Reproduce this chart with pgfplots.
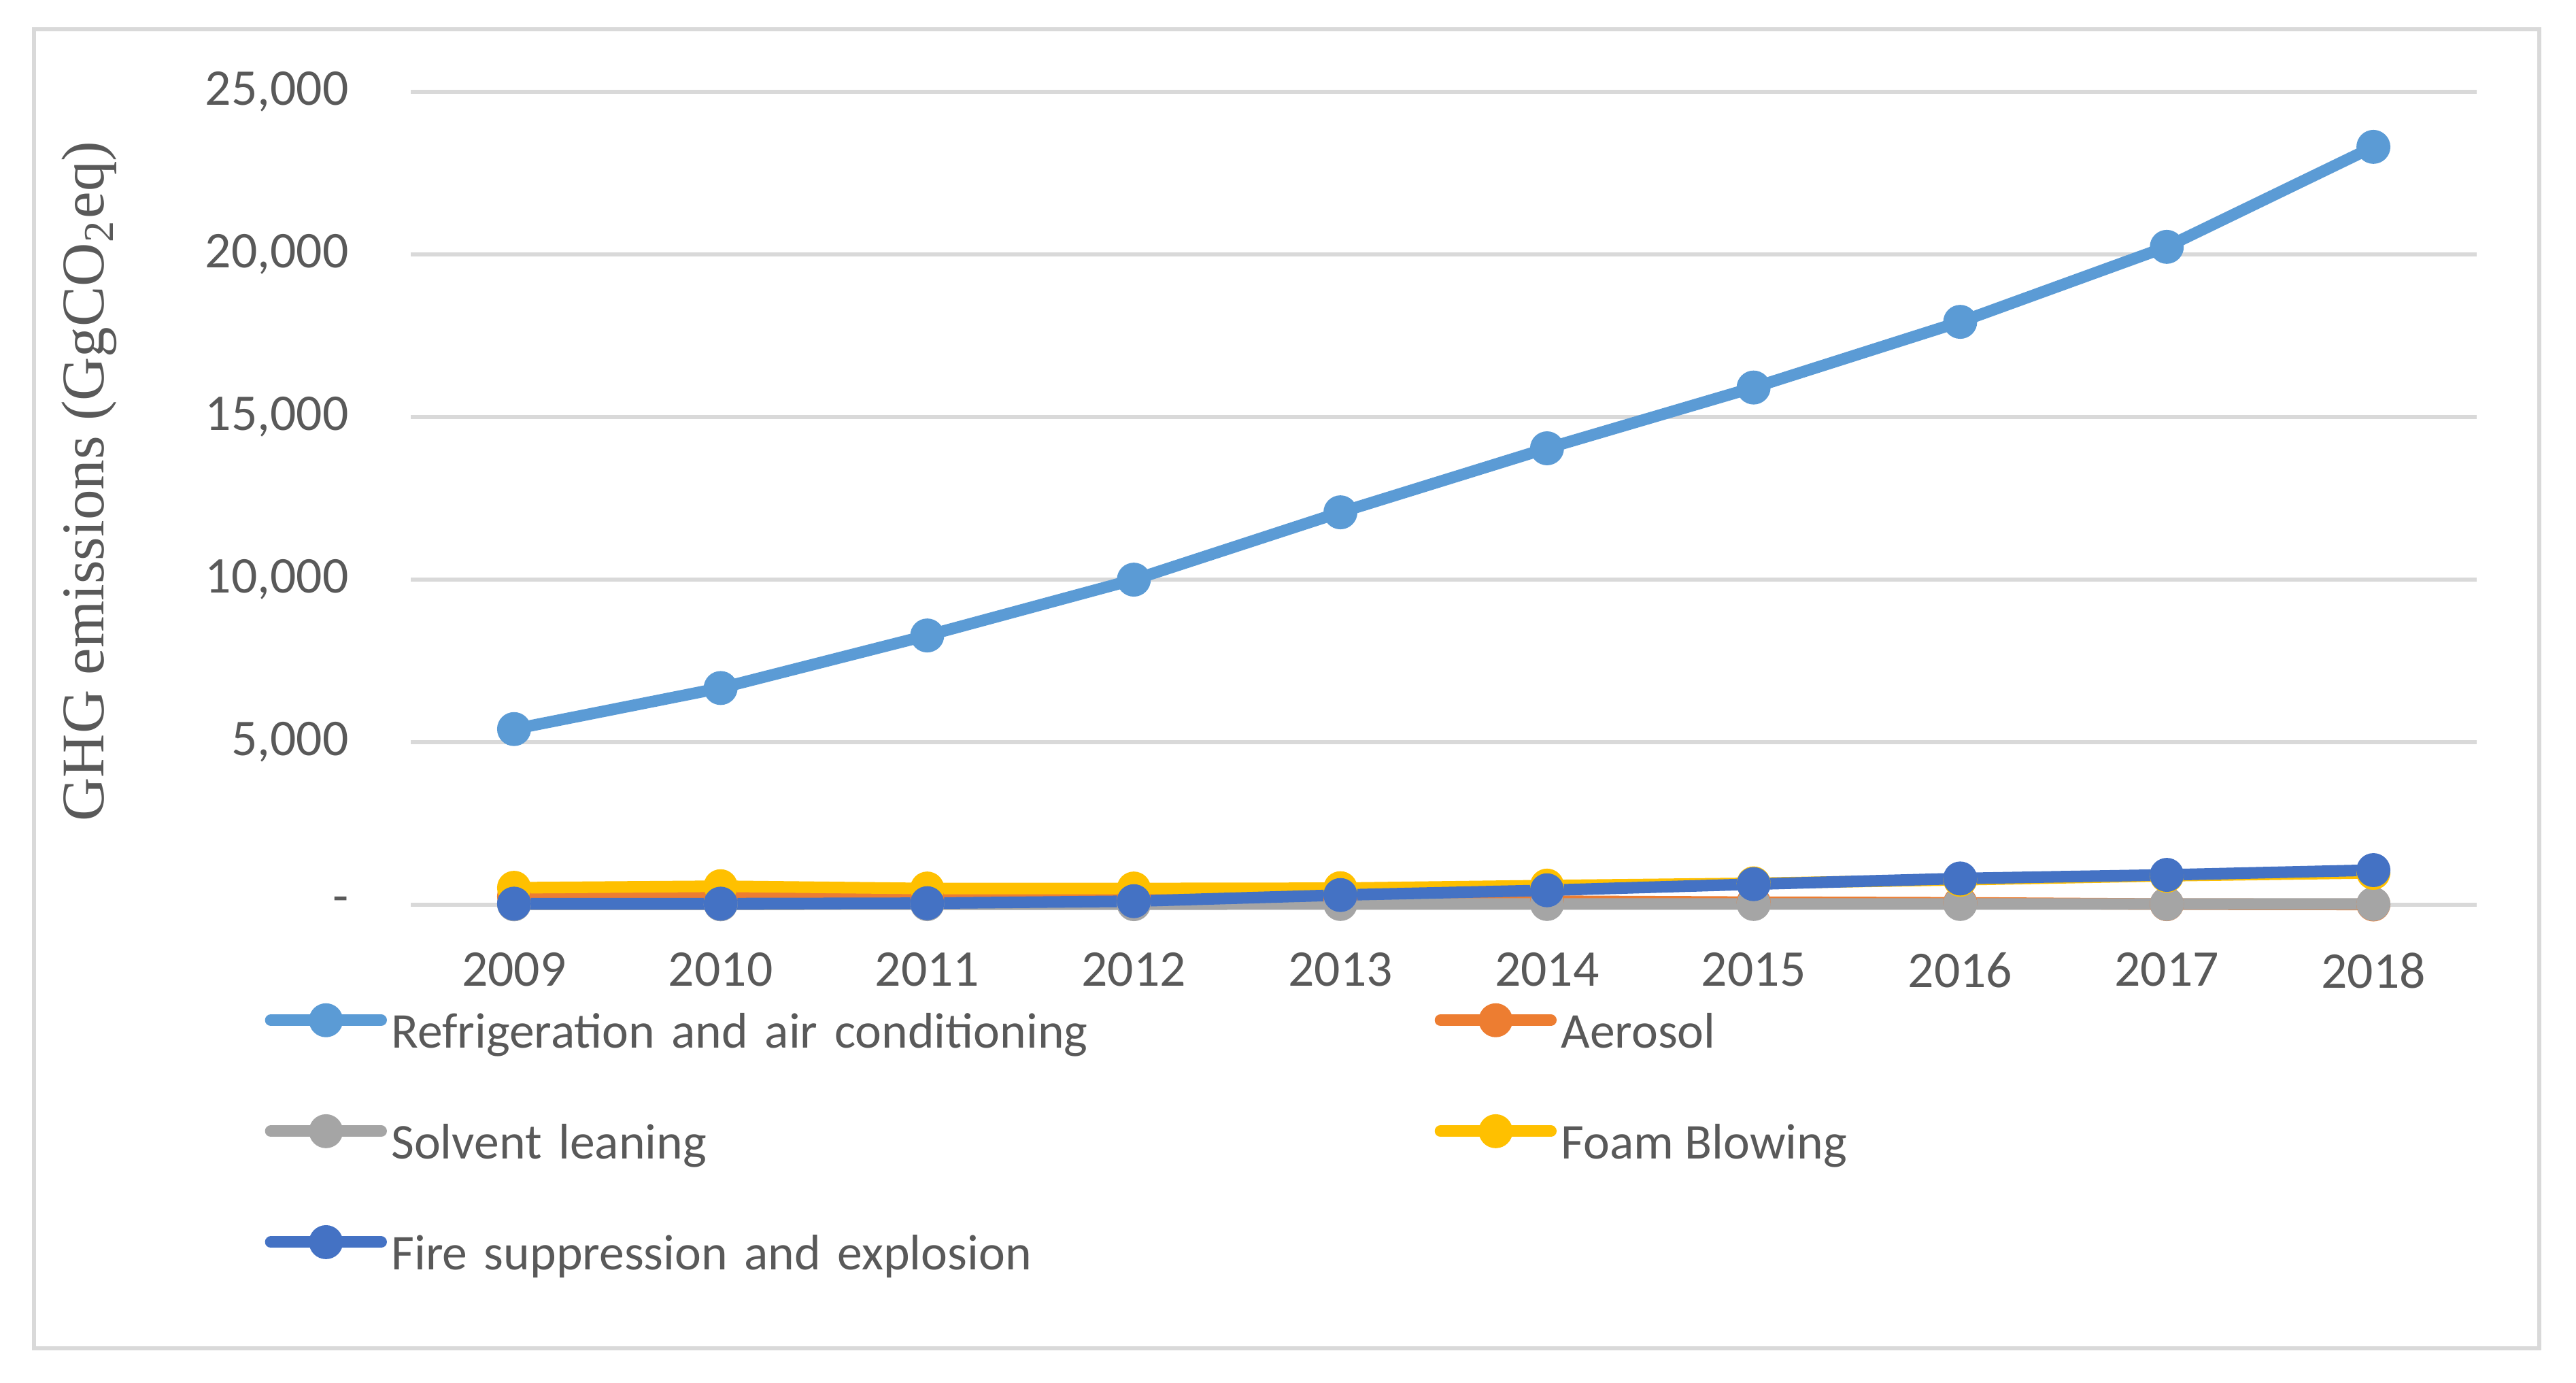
\documentclass[border=0pt]{standalone}
\usepackage{fontspec}
\setmainfont{Carlito}
\newfontfamily\labelfont{Liberation Serif}
\usepackage{pgfplots}
\pgfplotsset{compat=1.18}

\definecolor{txtgray}{HTML}{595959}
\definecolor{gridgray}{HTML}{D9D9D9}
\definecolor{refr}{HTML}{5B9BD5}
\definecolor{aero}{HTML}{ED7D31}
\definecolor{solv}{HTML}{A5A5A5}
\definecolor{foam}{HTML}{FFC000}
\definecolor{fire}{HTML}{4472C4}

\pgfplotsset{
  ser/.style={color=#1, line width=2.05pt, line join=round, mark=*,
    mark size=2.8pt, mark options={solid, fill=#1, draw=#1, line width=0.4pt}},
}

\begin{document}
\begin{tikzpicture}
\useasboundingbox (-72.59pt,-84.37pt) rectangle (382.65pt,159.84pt);
\draw[gridgray, line width=0.75pt] (-66.58pt,-78.36pt) rectangle (376.16pt,154.67pt);
\begin{axis}[
  at={(0,0)}, anchor=south west,
  scale only axis, width=365.1pt, height=143.6pt,
  clip=false,
  xmin=2008.5, xmax=2018.5, ymin=0, ymax=25000,
  axis line style={draw=none},
  major tick length=0pt,
  scaled y ticks=false,
  xtick={2009,2010,2011,2012,2013,2014,2015,2016,2017,2018},
  xticklabels={2009,2010,2011,2012,2013,2014,2015,2016,2017,2018},
  ytick={0,5000,10000,15000,20000,25000},
  yticklabels={-,{5,000},{10,000},{15,000},{20,000},{25,000}},
  ymajorgrids, grid style={line width=0.75pt, gridgray},
  tick label style={font=\fontsize{9.1pt}{11pt}\selectfont, text=txtgray, inner sep=0pt},
  yticklabel style={anchor=east, xshift=-10.8pt},
  xticklabel style={anchor=north, yshift=-8.3pt},
  ylabel={GHG emissions (GgCO\textsubscript{2}eq)},
  every axis y label/.style={at={(axis description cs:0,0.5)}, xshift=-51.7pt, yshift=3pt,
    rotate=90, anchor=south, inner sep=0pt, text=txtgray,
    font=\labelfont\fontsize{10.7pt}{12pt}\selectfont},
  legend columns=2,
  legend cell align=left,
  legend image code/.code={\draw[mark repeat=2, mark phase=2, line cap=round, #1]
    plot coordinates {(0pt,2.6pt) (9.75pt,2.6pt) (19.5pt,2.6pt)};},
  legend style={draw=none, fill=none, at={(0,0)}, anchor=north west,
    xshift=-25.76pt, yshift=-17.6pt, inner sep=0pt, outer sep=0pt,
    row sep=10.0pt, text=txtgray,
    font=\fontsize{8.85pt}{11pt}\selectfont,
    nodes={inner sep=0pt, text height=6.5pt, text depth=1.9pt},
    /tikz/column 1/.style={column sep=0.77pt},
    /tikz/column 2/.style={text width=184.4pt, align=left},
    /tikz/column 3/.style={column sep=0.77pt}},
]
\addplot[ser=refr] coordinates {
  (2009,5404) (2010,6667) (2011,8283) (2012,10000) (2013,12071)
  (2014,14040) (2015,15909) (2016,17929) (2017,20236) (2018,23311)};
\addlegendentry{Refrigeration and air conditioning}
\addplot[ser=aero] coordinates {
  (2009,260) (2010,250) (2011,210) (2012,190) (2013,160)
  (2014,110) (2015,80) (2016,60) (2017,20) (2018,10)};
\addlegendentry{Aerosol}
\addplot[ser=solv] coordinates {
  (2009,15) (2010,15) (2011,20) (2012,20) (2013,25)
  (2014,25) (2015,25) (2016,25) (2017,25) (2018,25)};
\addlegendentry{Solvent leaning}
\addplot[ser=foam] coordinates {
  (2009,523) (2010,571) (2011,500) (2012,500) (2013,510)
  (2014,590) (2015,660) (2016,770) (2017,893) (2018,983)};
\addlegendentry{Foam Blowing}
\addplot[ser=fire] coordinates {
  (2009,35) (2010,35) (2011,49) (2012,111) (2013,300)
  (2014,446) (2015,634) (2016,809) (2017,920) (2018,1067)};
\addlegendentry{Fire suppression and explosion}
\end{axis}
\end{tikzpicture}
\end{document}
